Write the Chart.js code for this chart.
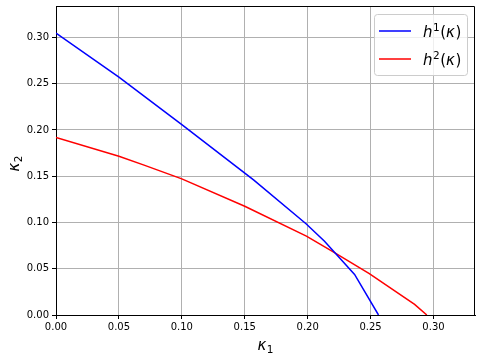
<!DOCTYPE html>
<html>
<head>
<meta charset="utf-8">
<script src="https://cdn.jsdelivr.net/npm/chart.js@4/dist/chart.umd.min.js"></script>
<style>
  html, body { margin: 0; padding: 0; background: #fff; }
  #canvas { display: block; }
</style>
</head>
<body>
<canvas id="canvas" width="481" height="359"></canvas>
<script>
// h^1(kappa) curve
const blueX = [0, 0.05, 0.10, 0.157, 0.1987, 0.2134, 0.2373, 0.2563];
const blueY = [0.3047, 0.2572, 0.2057, 0.146, 0.0986, 0.0798, 0.0439, 0];
// h^2(kappa) curve
const redX = [0, 0.05, 0.07, 0.10, 0.15, 0.199, 0.22, 0.249, 0.285, 0.2947];
const redY = [0.192, 0.1715, 0.162, 0.1471, 0.1176, 0.0852, 0.0684, 0.0447, 0.0115, 0];
const legendLabels = [["h", "1"], ["h", "2"]];
const xTicks = [0, 0.05, 0.10, 0.15, 0.20, 0.25, 0.30];
const yTicks = [0, 0.05, 0.10, 0.15, 0.20, 0.25, 0.30];

const toPoints = (xs, ys) => xs.map((x, i) => ({ x: x, y: ys[i] }));

// draw "base" italic + small index (sup or sub) + optional "(κ)"
function drawMath(ctx, x, y, base, idx, shift, withArg) {
  const big = "15px 'DejaVu Sans'";
  const bigIt = "italic 15px 'DejaVu Sans'";
  const small = "10.5px 'DejaVu Sans'";
  ctx.textBaseline = "alphabetic";
  ctx.textAlign = "left";
  ctx.font = bigIt;
  ctx.fillText(base, x, y);
  x += ctx.measureText(base).width + 0.5;
  ctx.font = small;
  ctx.fillText(idx, x, y + shift);
  x += ctx.measureText(idx).width + 0.5;
  if (withArg) {
    ctx.font = big;
    ctx.fillText("(", x, y);
    x += ctx.measureText("(").width;
    ctx.font = bigIt;
    ctx.fillText("κ", x, y);
    x += ctx.measureText("κ").width + 0.5;
    ctx.font = big;
    ctx.fillText(")", x, y);
  }
}

function mathWidth(ctx, base, idx) {
  ctx.font = "italic 15px 'DejaVu Sans'";
  let w = ctx.measureText(base).width + 0.5;
  ctx.font = "10.5px 'DejaVu Sans'";
  return w + ctx.measureText(idx).width;
}

const framePlugin = {
  id: "frame",
  afterDraw(chart) {
    const ctx = chart.ctx;
    const a = chart.chartArea;
    ctx.save();
    // top + right spines
    ctx.strokeStyle = "#000";
    ctx.lineWidth = 1;
    ctx.beginPath();
    ctx.moveTo(a.left, a.top + 0.5);
    ctx.lineTo(a.right - 0.5, a.top + 0.5);
    ctx.lineTo(a.right - 0.5, a.bottom);
    ctx.stroke();

    // legend
    ctx.fillStyle = "rgba(255,255,255,0.8)";
    ctx.strokeStyle = "#cccccc";
    ctx.beginPath();
    ctx.roundRect(374.5, 14.5, 93, 61, 3);
    ctx.fill();
    ctx.stroke();
    const colors = ["#0000ff", "#ff0000"];
    const rows = [31, 59];
    rows.forEach((ry, i) => {
      ctx.strokeStyle = colors[i];
      ctx.lineWidth = 1.5;
      ctx.beginPath();
      ctx.moveTo(379, ry);
      ctx.lineTo(411, ry);
      ctx.stroke();
      ctx.fillStyle = "#000";
      drawMath(ctx, 423, ry + 5.5, legendLabels[i][0], legendLabels[i][1], -6, true);
    });

    // axis titles
    ctx.fillStyle = "#000";
    const cx = (a.left + a.right) / 2;
    const wx = mathWidth(ctx, "κ", "1");
    drawMath(ctx, cx - wx / 2, 350, "κ", "1", 3, false);

    const cy = (a.top + a.bottom) / 2 + 3;
    const wy = mathWidth(ctx, "κ", "2");
    ctx.translate(18.5, cy);
    ctx.rotate(-Math.PI / 2);
    drawMath(ctx, -wy / 2, 0, "κ", "2", 3, false);
    ctx.restore();
  },
};

const tickFont = { family: "'DejaVu Sans'", size: 10 };

new Chart(document.getElementById("canvas").getContext("2d"), {
  type: "line",
  data: {
    datasets: [
      {
        label: "h1",
        data: toPoints(blueX, blueY),
        borderColor: "#0000ff",
        borderWidth: 1.5,
        pointRadius: 0,
        tension: 0,
        fill: false,
      },
      {
        label: "h2",
        data: toPoints(redX, redY),
        borderColor: "#ff0000",
        borderWidth: 1.5,
        pointRadius: 0,
        tension: 0,
        fill: false,
      },
    ],
  },
  options: {
    responsive: false,
    animation: false,
    devicePixelRatio: 1,
    layout: { padding: { top: 6, right: 6, left: 0, bottom: 0 } },
    plugins: { legend: { display: false }, tooltip: { enabled: false } },
    scales: {
      x: {
        type: "linear",
        min: 0,
        max: 0.333,
        afterFit: (s) => { s.height = 44; s.paddingLeft = 0; s.paddingRight = 0; },
        afterBuildTicks: (s) => { s.ticks = xTicks.map((v) => ({ value: v })); },
        ticks: {
          font: tickFont,
          color: "#000",
          padding: 2,
          maxRotation: 0,
          callback: (v) => Number(v).toFixed(2),
        },
        grid: { color: "#b0b0b0", lineWidth: 1, tickLength: 4, tickColor: "#000" },
        border: { color: "#000", width: 1 },
      },
      y: {
        type: "linear",
        min: 0,
        max: 0.334,
        afterFit: (s) => { s.width = 56; s.paddingTop = 0; s.paddingBottom = 0; },
        afterBuildTicks: (s) => { s.ticks = yTicks.map((v) => ({ value: v })); },
        ticks: {
          font: tickFont,
          color: "#000",
          padding: 3,
          callback: (v) => Number(v).toFixed(2),
        },
        grid: { color: "#b0b0b0", lineWidth: 1, tickLength: 4, tickColor: "#000" },
        border: { color: "#000", width: 1 },
      },
    },
  },
  plugins: [framePlugin],
});
</script>
</body>
</html>
